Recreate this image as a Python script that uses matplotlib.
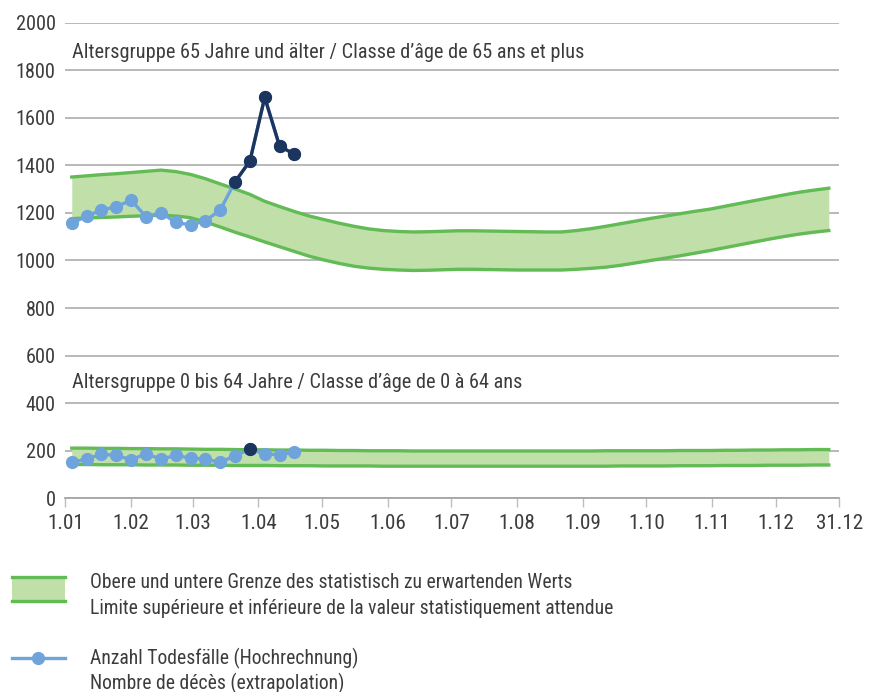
import numpy as np
import matplotlib
matplotlib.use("Agg")
import matplotlib.pyplot as plt
from matplotlib import font_manager
from matplotlib.lines import Line2D
from matplotlib.patches import Rectangle

# pick a condensed sans that is installed
avail = {f.name for f in font_manager.fontManager.ttflist}
family = 'DejaVu Sans'
for cand in ['Liberation Sans Narrow', 'Roboto Condensed', 'Archivo Narrow',
             'Barlow Semi Condensed', 'Liberation Sans']:
    if cand in avail:
        family = cand
        break
plt.rcParams['font.family'] = [family, 'DejaVu Sans']

# x axis: day of year 2020, month starts
tick_days = [0, 31, 60, 91, 121, 152, 182, 213, 244, 274, 305, 335, 365]
tick_labels = ['1.01', '1.02', '1.03', '1.04', '1.05', '1.06', '1.07',
               '1.08', '1.09', '1.10', '1.11', '1.12', '31.12']

# expected range, 65+ (weekly, 52 weeks)
old_hi = [1351, 1356, 1361, 1365, 1370, 1375, 1380, 1374, 1362, 1344, 1322, 1301, 1278, 1249,
          1227, 1206, 1187, 1172, 1157, 1144, 1133, 1126, 1122, 1120, 1121, 1123, 1125, 1125,
          1124, 1123, 1122, 1121, 1120, 1120, 1126, 1134, 1144, 1155, 1166, 1177, 1187, 1197,
          1207, 1216, 1228, 1240, 1252, 1264, 1276, 1287, 1296, 1304]
old_lo = [1176, 1179, 1181, 1183, 1186, 1188, 1190, 1187, 1180, 1162, 1141, 1119, 1099, 1078,
          1058, 1038, 1018, 1002, 988, 976, 968, 963, 960, 958, 959, 961, 963, 963,
          962, 961, 960, 960, 960, 960, 963, 967, 972, 980, 990, 1000, 1010, 1020,
          1031, 1042, 1054, 1066, 1078, 1090, 1101, 1111, 1119, 1126]

# expected range, 0-64
young_hi = [211, 211, 210, 210, 209, 209, 208, 208, 207, 206, 206, 205, 204, 204, 203, 203,
            202, 202, 201, 201, 200, 200, 200, 199, 199, 199, 199, 199, 199, 199, 199, 199,
            199, 199, 199, 199, 200, 200, 200, 200, 200, 201, 201, 201, 202, 202, 203, 203,
            204, 204, 205, 205]
young_lo = [142, 142, 141, 141, 141, 140, 140, 140, 139, 139, 139, 138, 138, 138, 137, 137,
            137, 136, 136, 136, 136, 135, 135, 135, 135, 135, 135, 135, 135, 135, 135, 135,
            135, 135, 135, 135, 135, 136, 136, 136, 136, 137, 137, 137, 138, 138, 138, 139,
            139, 139, 140, 140]

# deaths (extrapolation), weeks 1-16
old_deaths = [1156, 1187, 1212, 1226, 1254, 1184, 1201, 1161, 1149, 1167, 1212, 1331, 1418,
              1686, 1481, 1447]
young_deaths = [151, 165, 186, 180, 162, 187, 165, 180, 169, 165, 151, 179, 207, 186, 184, 194]

green = '#62bb55'
fill = '#c0dfa9'
light = '#6fa3db'
dark = '#1c355e'
grid = '#b3b3b3'
txt = '#3c3c3c'

weeks = np.arange(1, 53)
week_day = 3 + 7 * (weeks - 1)

fig = plt.figure(figsize=(8.8, 6.92), dpi=100)
ax = fig.add_axes([65.4 / 880, 1 - 498.3 / 692, 774 / 880, 475.6 / 692])

for hi, lo in [(old_hi, old_lo), (young_hi, young_lo)]:
    ax.fill_between(week_day, lo, hi, color=fill, lw=0, zorder=2)
    ax.plot(week_day, hi, color=green, lw=2.4, zorder=3)
    ax.plot(week_day, lo, color=green, lw=2.4, zorder=3)

for deaths, hi in [(old_deaths, old_hi), (young_deaths, young_hi)]:
    d = np.array(deaths, dtype=float)
    n = len(d)
    ax.plot(week_day[:n], d, '-o', color=light, lw=2.4, ms=8.5, zorder=4)
    over = np.where(d > np.array(hi[:n]), d, np.nan)
    ax.plot(week_day[:n], over, '-o', color=dark, lw=2.4, ms=8.5, zorder=5)

ax.set_xlim(0, 365)
ax.set_ylim(0, 2000)
ax.set_xticks(tick_days)
ax.set_xticklabels(tick_labels)
ax.set_yticks(range(0, 2001, 200))
ax.yaxis.grid(True, color=grid, lw=1.3)
ax.set_axisbelow(True)
for s in ['top', 'right', 'left']:
    ax.spines[s].set_visible(False)
ax.spines['bottom'].set_color('#a6a6a6')
ax.spines['bottom'].set_linewidth(1.3)
ax.tick_params(axis='x', length=6.5, width=1, color='#bdbdbd', pad=5, labelsize=14, labelcolor=txt)
ax.tick_params(axis='y', length=0, pad=7, labelsize=13.5, labelcolor=txt)

t_old = ax.text(3, 1873, 'Altersgruppe 65 Jahre und älter / Classe d\u2019âge de 65 ans et plus',
                fontsize=13, color=txt, va='center', ha='left')
t_young = ax.text(3, 486, 'Altersgruppe 0 bis 64 Jahre / Classe d\u2019âge de 0 à 64 ans',
                  fontsize=13, color=txt, va='center', ha='left')

# legend drawn by hand below the chart
W, H = 880, 692
fig.add_artist(Rectangle((12 / W, 1 - 602 / H), 53 / W, 26 / H, transform=fig.transFigure,
                         facecolor=fill, edgecolor='none'))
fig.add_artist(Line2D([12 / W, 65 / W], [1 - 577 / H, 1 - 577 / H], color=green, lw=2.4))
fig.add_artist(Line2D([12 / W, 65 / W], [1 - 601 / H, 1 - 601 / H], color=green, lw=2.4))
fig.add_artist(Line2D([12 / W, 65 / W], [1 - 658 / H, 1 - 658 / H], color=light, lw=2.4))
fig.add_artist(Line2D([38 / W], [1 - 658 / H], color=light, marker='o', ms=8.5))

legend_lines = [
    (583, 'Obere und untere Grenze des statistisch zu erwartenden Werts'),
    (608, 'Limite supérieure et inférieure de la valeur statistiquement attendue'),
    (658, 'Anzahl Todesfälle (Hochrechnung)'),
    (683, 'Nombre de décès (extrapolation)'),
]
leg_texts = [fig.text(90 / W, 1 - y / H, s, fontsize=13, color=txt, va='center', ha='left')
             for y, s in legend_lines]

# scale font sizes so that text widths match the original chart
fig.canvas.draw()
r = fig.canvas.get_renderer()
k = 508 / t_old.get_window_extent(r).width
for t in [t_old, t_young]:
    t.set_fontsize(t.get_fontsize() * k)
kl = 522 / leg_texts[1].get_window_extent(r).width
for t in leg_texts:
    t.set_fontsize(t.get_fontsize() * kl)
kx = 37 / ax.get_xticklabels()[0].get_window_extent(r).width
ky = 40 / ax.get_yticklabels()[-1].get_window_extent(r).width
ax.tick_params(axis='x', labelsize=14 * kx)
ax.tick_params(axis='y', labelsize=13.5 * ky)

fig.savefig('out.png', dpi=100)
